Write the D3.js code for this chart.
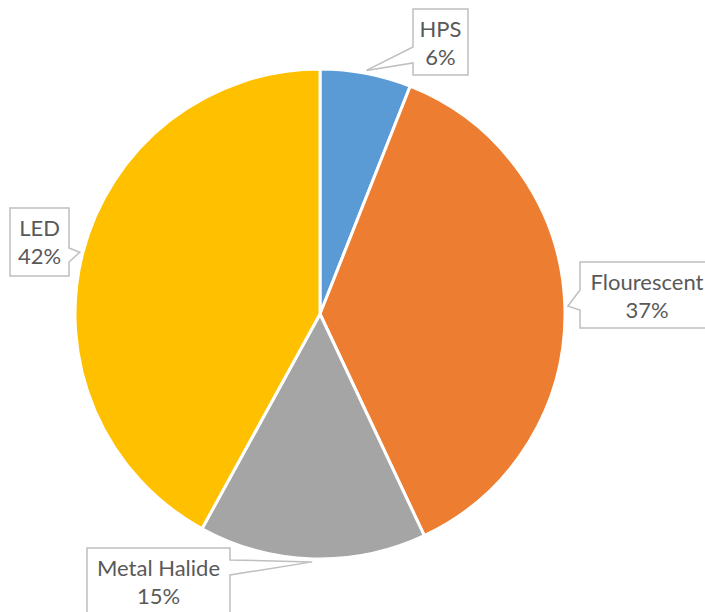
<!DOCTYPE html>
<html>
<head>
<meta charset="utf-8">
<script src="https://cdn.jsdelivr.net/npm/d3@7"></script>
<style>
  html, body { margin: 0; padding: 0; background: #ffffff; }
  svg { display: block; }
</style>
</head>
<body>
<svg id="chart" width="705" height="612"></svg>
<script>
// Share of grow-light types
const categories = ["HPS", "Flourescent", "Metal Halide", "LED"];
const values = [6, 37, 15, 42];
const percentLabels = ["6%", "37%", "15%", "42%"];
const colors = ["#5B9BD5", "#ED7D31", "#A5A5A5", "#FFC000"];

// Callout boxes: rectangle, the side the pointer leaves from, and the span of its base
const callouts = [
  { x: 413, y: 9,   w: 55,  h: 66, side: "left",  b1: 47,  b2: 63 },
  { x: 580, y: 262, w: 134, h: 66, side: "left",  b1: 290, b2: 310 },
  { x: 87,  y: 548, w: 143, h: 70, side: "right", b1: 560, b2: 575 },
  { x: 10,  y: 208, w: 59,  h: 68, side: "right", b1: 248, b2: 262 }
];

const width = 705, height = 612;
const cx = 320, cy = 314, radius = 245;

const svg = d3.select("#chart");
const g = svg.append("g").attr("transform", `translate(${cx},${cy})`);

const pie = d3.pie().sort(null).value(d => d)(values);
const arc = d3.arc().innerRadius(0).outerRadius(radius);
const tipArc = d3.arc().innerRadius(radius + 3).outerRadius(radius + 3);

g.selectAll("path.slice")
  .data(pie)
  .join("path")
  .attr("class", "slice")
  .attr("d", arc)
  .attr("fill", (d, i) => colors[i])
  .attr("stroke", "#ffffff")
  .attr("stroke-width", 3)
  .attr("stroke-linejoin", "round");

// Callout outline with a wedge pointing at the slice edge
function calloutPath(c, tip) {
  const x0 = c.x, x1 = c.x + c.w, y0 = c.y, y1 = c.y + c.h;
  if (c.side === "left") {
    return `M${x0},${y0}H${x1}V${y1}H${x0}V${c.b2}L${tip[0]},${tip[1]}L${x0},${c.b1}Z`;
  }
  return `M${x0},${y0}H${x1}V${c.b1}L${tip[0]},${tip[1]}L${x1},${c.b2}V${y1}H${x0}Z`;
}

const labels = svg.append("g");
pie.forEach((d, i) => {
  const c = callouts[i];
  const t = tipArc.centroid(d);
  const tip = [cx + t[0], cy + t[1]];
  labels.append("path")
    .attr("d", calloutPath(c, tip))
    .attr("fill", "#ffffff")
    .attr("stroke", "#BFBFBF")
    .attr("stroke-width", 1.5)
    .attr("stroke-linejoin", "miter");
  const tx = c.x + c.w / 2;
  const text = labels.append("text")
    .attr("text-anchor", "middle")
    .attr("font-family", "Lato, 'Open Sans', sans-serif")
    .attr("font-size", 22)
    .attr("fill", "#595959");
  text.append("tspan").attr("x", tx).attr("y", c.y + 28).text(categories[i]);
  text.append("tspan").attr("x", tx).attr("y", c.y + 55.5).text(percentLabels[i]);
});
</script>
</body>
</html>
